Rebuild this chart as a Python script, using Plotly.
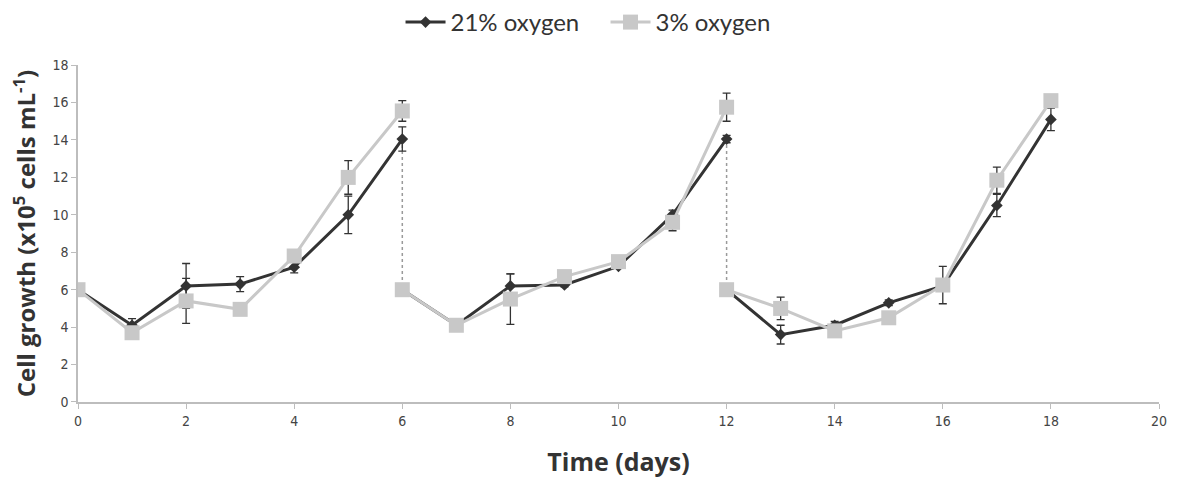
import plotly.graph_objects as go

# Three culture segments (re-seeded at day 6 and day 12)
seg_days = [[0, 1, 2, 3, 4, 5, 6], [6, 7, 8, 9, 10, 11, 12], [12, 13, 14, 15, 16, 17, 18]]

o21_vals = [[6.0, 4.1, 6.2, 6.3, 7.2, 10.0, 14.05],
            [6.0, 4.1, 6.2, 6.25, 7.25, 10.0, 14.05],
            [6.0, 3.6, 4.1, 5.3, 6.2, 10.5, 15.1]]
o21_err = [[0.0, 0.35, 1.2, 0.4, 0.3, 1.0, 0.65],
           [0.0, 0.1, 0.65, 0.1, 0.1, 0.25, 0.2],
           [0.0, 0.5, 0.2, 0.15, 0.2, 0.6, 0.6]]

o3_vals = [[6.0, 3.7, 5.4, 4.95, 7.8, 12.0, 15.55],
           [6.0, 4.1, 5.5, 6.7, 7.5, 9.6, 15.75],
           [6.0, 5.0, 3.8, 4.5, 6.25, 11.85, 16.1]]
o3_err = [[0.0, 0.3, 1.2, 0.1, 0.2, 0.9, 0.55],
          [0.0, 0.1, 1.35, 0.1, 0.2, 0.45, 0.75],
          [0.0, 0.6, 0.3, 0.3, 1.0, 0.7, 0.1]]

# Dotted transfer lines at re-seeding days
transfer_days = [6, 12]
transfer_from = [14.05, 14.05]
transfer_to = [6.0, 6.0]

x_ticks = list(range(0, 21, 2))
y_ticks = list(range(0, 19, 2))


def join(segs):
    out = []
    for i, s in enumerate(segs):
        if i:
            out.append(None)
        out.extend(s)
    return out


fig = go.Figure()

# dotted vertical connectors
for d, a, b in zip(transfer_days, transfer_from, transfer_to):
    fig.add_trace(go.Scatter(x=[d, d], y=[a, b], mode="lines",
                             line=dict(color="#9a9a9a", width=1.5, dash="dot"),
                             showlegend=False, hoverinfo="skip"))

fig.add_trace(go.Scatter(
    x=join(seg_days), y=join(o21_vals), name="21% oxygen",
    mode="lines+markers", connectgaps=False,
    line=dict(color="#333333", width=3),
    marker=dict(symbol="diamond", size=9, color="#333333"),
    error_y=dict(type="data", array=join(o21_err), color="#333333", thickness=1.3, width=4),
))
fig.add_trace(go.Scatter(
    x=join(seg_days), y=join(o3_vals), name="3% oxygen",
    mode="lines+markers", connectgaps=False,
    line=dict(color="#c8c8c8", width=3),
    marker=dict(symbol="square", size=15, color="#c8c8c8"),
    error_y=dict(type="data", array=join(o3_err), color="#333333", thickness=1.3, width=4),
))

fig.update_layout(
    width=1179, height=486,
    margin=dict(l=78, r=15, t=63, b=84),
    paper_bgcolor="white", plot_bgcolor="white",
    font=dict(family="Lato, Open Sans, sans-serif", color="#333333"),
    legend=dict(orientation="h", x=0.488, xanchor="center", y=1.0, yanchor="top",
                yref="container", font=dict(size=24, color="#333333"), itemwidth=40,
                traceorder="normal", entrywidth=150, entrywidthmode="pixels"),
    showlegend=True,
)

fig.update_xaxes(
    range=[0, 20], tickvals=x_ticks, ticktext=[str(v) for v in x_ticks],
    showgrid=False, zeroline=False, showline=True, linecolor="#bdbdbd", linewidth=1.5,
    ticks="outside", ticklen=5, tickcolor="#bdbdbd",
    tickfont=dict(family="Liberation Sans Narrow, DejaVu Sans Condensed, sans-serif", size=14, color="#444444"),
    title=dict(text="Time (days)", font=dict(family="Open Sans, sans-serif", size=25, color="#333333", weight="bold"),
               standoff=26),
)
fig.update_yaxes(
    range=[0, 18], tickvals=y_ticks, ticktext=[str(v) for v in y_ticks],
    showgrid=False, zeroline=False, showline=True, linecolor="#bdbdbd", linewidth=1.5,
    ticks="outside", ticklen=5, tickcolor="#bdbdbd",
    tickfont=dict(family="Liberation Sans Narrow, DejaVu Sans Condensed, sans-serif", size=14, color="#444444"),
    title=dict(text="Cell growth (x10<sup>5</sup> cells mL<sup>-1</sup>)",
               font=dict(family="Open Sans, sans-serif", size=24, color="#333333", weight="bold"),
               standoff=10),
)

fig.write_html("out.html")
